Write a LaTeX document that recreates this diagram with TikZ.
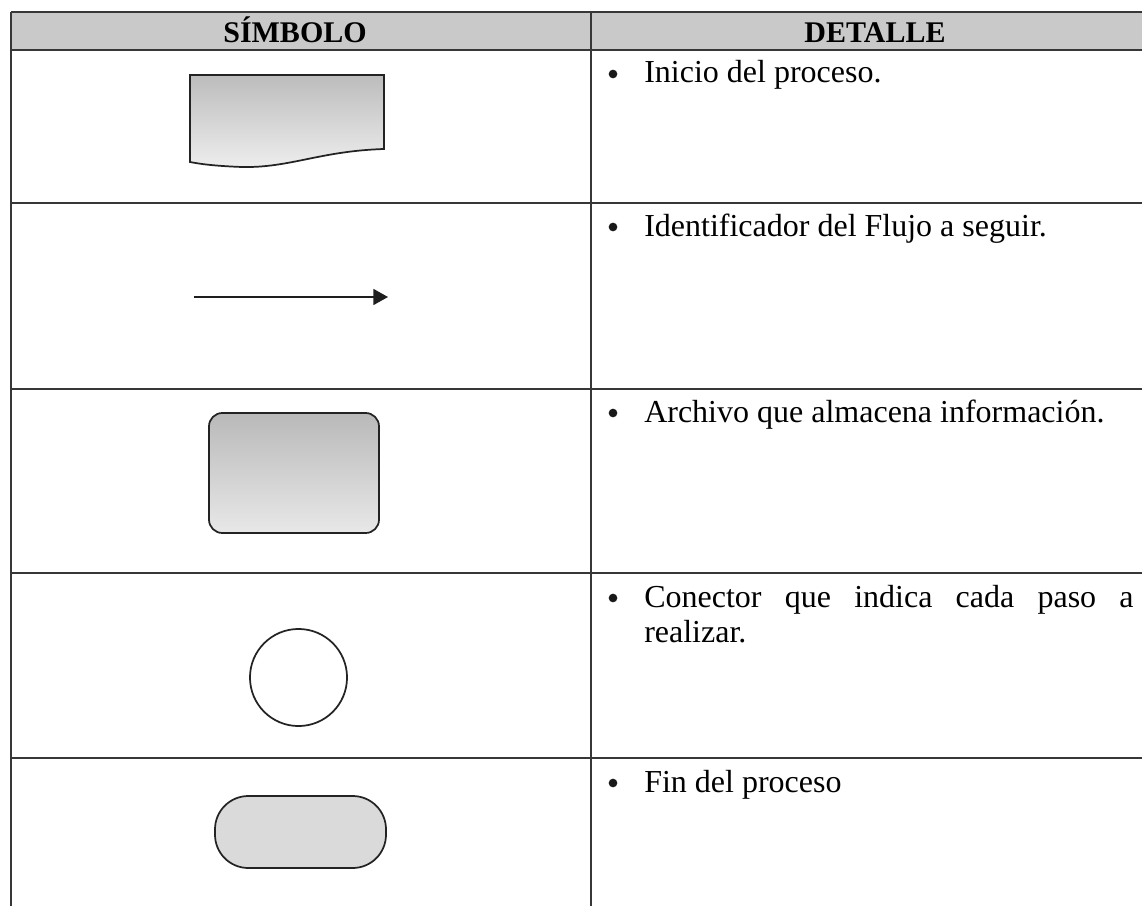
\documentclass[tikz,border=0pt]{standalone}
\usepackage{fontspec}
\setmainfont{Liberation Serif}
\usetikzlibrary{arrows.meta}

\tikzset{
  rule/.style={color={rgb, 255:red, 55; green, 55; blue, 55 }, line width=1.1pt},
  shapeline/.style={draw={rgb, 255:red, 35; green, 35; blue, 35 }, line width=1.3pt},
  headtext/.style={font=\fontsize{22.5}{27}\selectfont\bfseries, inner sep=0pt, anchor=base},
  celltext/.style={font=\fontsize{24}{26.5}\selectfont, inner sep=0pt, anchor=base west, text width=367pt, align=justify,
    execute at begin node={\hyphenpenalty=10000\exhyphenpenalty=10000}},
  bulletdot/.style={circle, fill={rgb, 255:red, 25; green, 25; blue, 25 }, inner sep=0pt, minimum size=6.5pt}
}
\colorlet{headgray}{black!21}

\begin{document}
\begin{tikzpicture}[x=0.75pt,y=0.75pt,yscale=-1,xscale=1]
\useasboundingbox (0,0) rectangle (1142,906);
\clip (0,0) rectangle (1142,906);

%Shape: Header band
\fill [headgray] (11,12) rectangle (1170,50);
%Table rules
\draw [rule] (11,12) -- (1170,12);
\draw [rule] (11,50) -- (1170,50);
\draw [rule] (11,203) -- (1170,203);
\draw [rule] (11,389) -- (1170,389);
\draw [rule] (11,573) -- (1170,573);
\draw [rule] (11,758) -- (1170,758);
\draw [rule] (11,12) -- (11,906);
\draw [rule] (591,12) -- (591,906);

% Text Node
\node [headtext] (hsimbolo) at (295,43) {SÍMBOLO};
% Text Node
\node [headtext] (hdetalle) at (875,43) {DETALLE};

%Shape: Document [inicio]
\draw [shapeline, top color={rgb, 255:red, 188; green, 188; blue, 188 }, bottom color={rgb, 255:red, 238; green, 238; blue, 238 }]
  (190,75) -- (384,75) -- (384,149) .. controls (320,151) and (290,168) .. (242,167) .. controls (215,166) and (200,164) .. (190,162) -- cycle ;

%Straight Lines [flujo]
\coordinate (flujoA) at (194,297);
\coordinate (flujoB) at (388,297);
\draw [line width=1.3pt, color={rgb, 255:red, 30; green, 30; blue, 30 }, -{Triangle[length=11pt,width=12pt]}] (flujoA) -- (flujoB) ;

%Shape: Rounded Rect [archivo]
\draw [shapeline, rounded corners=10pt, top color={rgb, 255:red, 185; green, 185; blue, 185 }, bottom color={rgb, 255:red, 232; green, 232; blue, 232 }] (209,413) rectangle (379,533) ;

%Shape: Circle [conector]
\draw [shapeline, fill=white] (298.5,677.5) circle [radius=36.4pt] ;

%Shape: Terminal [fin]
\draw [shapeline, rounded corners=25pt, fill={rgb, 255:red, 218; green, 218; blue, 218 }] (215,796) rectangle (386,868) ;

% Text Node
\node [bulletdot] (b1) at (613,74) {};
\node [celltext] (t1) at (644,83) {Inicio del proceso.};
% Text Node
\node [bulletdot] (b2) at (613,227) {};
\node [celltext] (t2) at (644,236) {Identificador del Flujo a seguir.};
% Text Node
\node [bulletdot] (b3) at (613,413) {};
\node [celltext] (t3) at (644,422) {Archivo que almacena información.};
% Text Node
\node [bulletdot] (b4) at (613,598) {};
\node [celltext] (t4) at (644,607) {Conector que indica cada paso a realizar.};
% Text Node
\node [bulletdot] (b5) at (613,783) {};
\node [celltext] (t5) at (644,792) {Fin del proceso};

\end{tikzpicture}
\end{document}
